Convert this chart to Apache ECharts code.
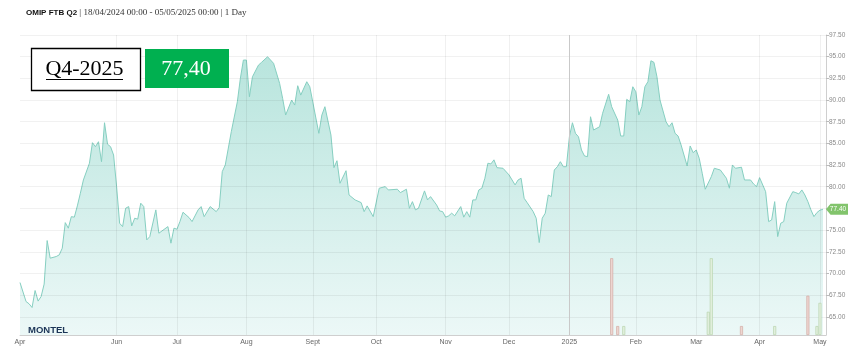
<!DOCTYPE html>
<html><head><meta charset="utf-8">
<script src="https://cdn.jsdelivr.net/npm/echarts@6/dist/echarts.min.js"></script>
<style>html,body{margin:0;padding:0;background:#fff}#c{width:849px;height:354px}</style>
</head><body><div id="c"></div>
<script>
// ---- calendar (trading sessions) ----
const startDate = '2024-04-18';
const endDate = '2025-05-05';
const holidays = ['2024-12-25','2024-12-26','2025-01-01','2025-04-18','2025-04-21'];

// ---- x tick labels ----
const tickDates  = ['2024-04-18','2024-06-03','2024-07-01','2024-08-01','2024-09-02','2024-10-01','2024-11-01','2024-12-02','2025-01-02','2025-02-03','2025-03-03','2025-04-01','2025-05-01'];
const tickLabels = ['Apr','Jun','Jul','Aug','Sept','Oct','Nov','Dec','2025','Feb','Mar','Apr','May'];
const yearLineDate = '2025-01-02';

// ---- price series (session index, EUR/MWh) ----
const session = [0,2,3,4,5,6,7,8,9,10,12,13,14,15,16,17,18,19,20,21,23,24,25,26,27,28,29,30,31,32,33,34,35,36,37,38,39,40,41,42,43,45,46,49,50,51,52,53,54,56,57,59,60,61,63,65,66,67,68,70,72,73,74,75,76,77,79,80,82,84,86,87,88,90,91,92,93,95,96,99,100,101,103,104,105,106,108,109,111,113,114,115,117,119,121,122,125,126,128,129,130,131,132,134,135,136,138,139,140,141,142,143,144,146,147,148,149,150,151,152,153,154,155,156,157,158,160,162,164,165,166,167,168,170,171,172,173,174,175,176,177,178,179,180,181,182,183,184,185,186,187,188,189,190,192,193,195,196,198,199,200,201,202,203,204,205,206,207,208,209,210,211,212,214,215,216,217,218,219,221,222,223,224,225,226,227,229,230,232,234,235,236,237,239,240,242,243,244,245,247,248,249,250,251,252,253,254,256,257,258,259,260,261,262,263,264,265,266];
const price = [68.95,66.76,66.50,66.07,68.03,66.81,67.34,68.77,73.79,71.76,71.95,72.14,72.91,75.86,75.22,76.55,76.49,77.79,79.25,80.78,82.71,85.08,84.62,85.19,82.89,87.38,84.90,84.62,83.66,80.01,75.79,75.40,77.52,77.71,75.48,76.37,76.26,78.10,77.71,73.87,74.25,77.33,74.64,75.40,73.49,75.22,75.10,76.00,77.06,76.44,75.98,77.33,77.71,76.55,77.71,77.13,77.59,81.74,82.51,86.35,89.80,92.50,94.61,94.61,90.38,92.68,94.03,94.34,94.99,94.23,91.92,90.19,88.27,90.00,89.42,91.65,90.57,92.11,91.53,86.16,88.27,89.23,85.97,82.20,83.00,80.40,81.85,79.05,78.48,78.17,77.13,77.79,76.55,79.83,80.01,79.63,79.71,79.32,79.71,77.52,78.28,77.33,77.52,79.52,78.48,78.86,77.90,77.21,77.13,76.49,76.64,76.95,76.64,77.71,76.49,77.13,76.49,78.48,78.48,79.63,79.83,80.98,82.71,82.63,83.10,82.20,82.13,81.36,80.21,80.78,80.98,78.67,78.17,77.13,76.37,73.56,76.37,76.95,79.05,78.86,81.93,82.31,82.89,82.31,82.31,85.77,87.38,86.16,85.77,84.24,83.55,83.47,88.07,86.54,86.92,88.47,90.66,89.23,87.69,85.85,85.85,90.08,89.80,91.53,90.95,88.27,89.23,91.53,92.11,94.53,94.35,92.68,90.00,87.50,86.92,87.38,86.16,85.85,84.81,82.40,84.70,83.93,84.24,83.28,81.55,79.71,81.16,82.13,81.93,80.98,79.83,82.51,82.13,82.25,80.78,80.78,80.32,80.01,81.05,79.43,75.98,76.17,78.28,74.25,75.79,75.98,78.10,79.43,79.32,79.17,79.63,79.05,78.28,77.33,76.55,77.02,77.30,77.40];
const lastPrice = 77.40;
const contractName = 'Q4-2025';
const lastPriceText = '77,40';

// ---- traded volumes (session index, MW) ----
const sellSession = [196,198,239,261];
const sellVolume  = [43,5,5,22];
const buySession  = [200,228,229,250,264,265];
const buyVolume   = [5,13,43,5,5,18];

// ---- y ticks ----
const yTicks = [65,67.5,70,72.5,75,77.5,80,82.5,85,87.5,90,92.5,95,97.5];

// build categories
const cats = [];
{
  const end = new Date(endDate + 'T00:00:00Z');
  for (let d = new Date(startDate + 'T00:00:00Z'); d <= end; d.setUTCDate(d.getUTCDate() + 1)) {
    const wd = d.getUTCDay();
    if (wd === 0 || wd === 6) continue;
    const s = d.toISOString().slice(0, 10);
    if (holidays.includes(s)) continue;
    cats.push(s);
  }
}
const N = cats.length;
const priceData = new Array(N).fill(null);
session.forEach((s, i) => { priceData[s] = price[i]; });
const sellData = new Array(N).fill(null);
sellSession.forEach((s, i) => { sellData[s] = sellVolume[i]; });
const buyData = new Array(N).fill(null);
buySession.forEach((s, i) => { buyData[s] = buyVolume[i]; });

const labelOf = {};
tickDates.forEach((d, i) => { labelOf[d] = tickLabels[i]; });
const tickIdx = new Set(tickDates.map(d => cats.indexOf(d)));

const chart = echarts.init(document.getElementById('c'), null, {renderer: 'canvas'});

const gridMarks = yTicks.map(v => ({yAxis: v, lineStyle: {color: 'rgba(0,0,0,0.055)', width: 1, type: 'solid'}}))
  .concat(tickDates.slice(1).map(d => ({xAxis: d, lineStyle: {color: d === yearLineDate ? '#c9c9c9' : 'rgba(0,0,0,0.06)', width: 1, type: 'solid'}})));

chart.setOption({
  animation: false,
  backgroundColor: '#fff',
  grid: {left: 20, right: 23, top: 35, bottom: 19},
  xAxis: {
    type: 'category', data: cats, boundaryGap: false,
    axisLine: {show: true, lineStyle: {color: '#cfcfcf'}},
    axisTick: {show: false},
    axisLabel: {
      interval: (i) => tickIdx.has(i),
      formatter: (v) => labelOf[v] || '',
      fontSize: 7, color: '#666', fontFamily: 'Liberation Sans', margin: 4
    },
    splitLine: {show: false}
  },
  yAxis: [{
    type: 'value', position: 'right', min: 62.9, max: 97.5,
    axisLine: {show: true, lineStyle: {color: '#cfcfcf'}},
    axisTick: {show: true, length: 3, customValues: yTicks, lineStyle: {color: '#bbb'}},
    axisLabel: {customValues: yTicks, formatter: v => v.toFixed(2), fontSize: 6.5, color: '#8a8a8a', fontFamily: 'Liberation Sans', margin: 3},
    splitLine: {show: false}
  }, {
    type: 'value', min: 0, max: 168, show: false
  }],
  series: [{
    type: 'line', data: priceData, connectNulls: true, symbol: 'none', z: 2,
    lineStyle: {color: '#86cfc1', width: 1},
    areaStyle: {
      opacity: 1,
      color: new echarts.graphic.LinearGradient(0, 35, 0, 335, [
        {offset: 0, color: '#b4e3db'},
        {offset: 1, color: '#ecf8f7'}
      ], true)
    },
    markLine: {silent: true, symbol: ['none', 'none'], label: {show: false}, data: gridMarks, animation: false},
    markPoint: {
      silent: true,
      symbol: 'path://M0,5 L5,0 L24,0 L24,10 L5,10 Z',
      symbolSize: [22, 11], symbolOffset: [11, 0],
      itemStyle: {color: '#82c46c'},
      label: {show: true, formatter: lastPrice.toFixed(2), color: '#fff', fontSize: 6.5, fontFamily: 'Liberation Sans', offset: [1, 0]},
      data: [{coord: [cats[N - 1], lastPrice]}]
    }
  }, {
    type: 'bar', yAxisIndex: 1, data: sellData, barWidth: 3, z: 5,
    itemStyle: {color: '#eed6d1', borderColor: '#d3aba4', borderWidth: 0.7}
  }, {
    type: 'bar', yAxisIndex: 1, data: buyData, barWidth: 3, barGap: '-100%', z: 5,
    itemStyle: {color: '#e3f0de', borderColor: '#b7d4ad', borderWidth: 0.7}
  }],
  graphic: [
    {type: 'text', z: 100, left: 26, top: 8, style: {
      text: '{b|OMIP FTB Q2}{s| | 18/04/2024 00:00 - 05/05/2025 00:00 | 1 Day}',
      rich: {
        b: {fontFamily: 'Liberation Sans', fontWeight: 'bold', fontSize: 8, fill: '#111'},
        s: {fontFamily: 'Liberation Serif', fontSize: 9, fill: '#333'}
      }
    }},
    {type: 'rect', z: 100, shape: {x: 31.5, y: 48.5, width: 109, height: 42}, style: {fill: '#fff', stroke: '#000', lineWidth: 1.3}},
    {type: 'text', z: 101, x: 84.5, y: 69, style: {text: contractName, fontFamily: 'Liberation Serif', fontSize: 22, fill: '#000', align: 'center', verticalAlign: 'middle'}},
    {type: 'line', z: 101, shape: {x1: 46, y1: 79.5, x2: 123, y2: 79.5}, style: {stroke: '#000', lineWidth: 1}},
    {type: 'rect', z: 100, shape: {x: 145, y: 49, width: 84, height: 39}, style: {fill: '#00b050'}},
    {type: 'text', z: 101, x: 186, y: 69, style: {text: lastPriceText, fontFamily: 'Liberation Serif', fontSize: 22, fill: '#fff', align: 'center', verticalAlign: 'middle'}},
    {type: 'text', z: 100, x: 28, y: 330, style: {text: 'MONTEL', fontFamily: 'Liberation Sans', fontWeight: 'bold', fontSize: 9.5, fill: '#1c3557', verticalAlign: 'middle'}}
  ]
});
</script>
</body></html>
